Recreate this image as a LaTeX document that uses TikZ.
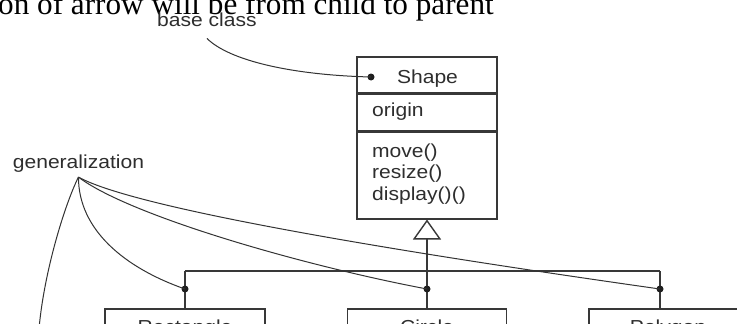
\documentclass[tikz,border=0pt]{standalone}
\usepackage{fontspec}
\setmainfont{Liberation Serif}
\newfontfamily\umlfont[FakeStretch=1.12]{Liberation Sans}
\usetikzlibrary{arrows.meta,positioning}

\begin{document}
\begin{tikzpicture}[
    x=1pt, y=-1pt,
    ink/.style={draw=black!78, line width=1.4pt},
    umltext/.style={font=\umlfont\fontsize{18.8}{22}\selectfont, text=black!82, inner sep=0pt},
    compartment/.style={ink, minimum width=140pt, inner sep=0pt},
    classbox/.style={ink, umltext, minimum width=160pt, minimum height=40pt, text height=13.5pt, text depth=4pt},
    note/.style={draw=black!80, line width=1pt},
    joint/.style={circle, fill=black!88, inner sep=0pt, minimum size=7pt},
    inherit/.style={ink, -{Triangle[open, width=28pt, length=20pt, fill=white]}}
]

\useasboundingbox (0,0) rectangle (737,324);
\clip (0,0) rectangle (737,324);
\fill[white] (0,0) rectangle (737,324);

\node[font=\fontsize{31.2}{36}\selectfont, anchor=base east, inner sep=0pt] (caption) at (494,14) {on of arrow will be from child to parent};

% parent class
\node[compartment, minimum height=36pt] (shapename) at (427,75) {};
\node[compartment, minimum height=36pt, below=0pt of shapename] (shapeattrs) {};
\node[compartment, minimum height=87pt, below=0pt of shapeattrs] (shapeops) {};
\node[umltext, anchor=base] (shapetitle) at (427.5,83) {Shape};
\node[umltext, anchor=base west] (shapeorigin) at (372,116) {origin};
\foreach \op [count=\i] in {{move()}, {resize()}, {display()()}}
    \node[umltext, anchor=base west] (op\i) at (372,{157+21.5*(\i-1)}) {\op};

% child classes
\node[classbox] (rect) at (185,329) {Rectangle};
\node[classbox, minimum width=159pt] (circ) at (427,329) {Circle};
\node[classbox, minimum width=158pt] (poly) at (668,329) {Polygon};

\coordinate (barleft) at (185,271);
\coordinate (barright) at (660,271);
\draw[inherit] (circ.north) -- (shapeops.south);
\draw[ink] (barleft) -- (barright);
\draw[ink] (barleft) -- (rect.north);
\draw[ink] (barright) -- (barright |- poly.north);

% callouts
\node[umltext, anchor=base west] (baselbl) at (157,27) {base class};
\node[umltext, anchor=base west] (genlbl) at (12.7,168) {generalization};
\coordinate (genfrom) at ([yshift=-5pt]genlbl.south);
\coordinate (squaretop) at (38,345);

\node[joint] (basedot) at (371,77) {};
\node[joint] (rectjoin) at (185,289) {};
\node[joint] (circjoin) at (427,289) {};
\node[joint] (polyjoin) at (660,289) {};

\draw[note] ([yshift=-11pt]baselbl.south) .. controls +(22,22) and +(-80,-2) .. (basedot.center);
\draw[note] (genfrom) .. controls +(-15,30) and +(2,-60) .. (squaretop);
\draw[note] (genfrom) .. controls +(0,53) and +(-60,-21) .. (rectjoin.center);
\draw[note] (genfrom) .. controls +(50,38) and +(-127,-24) .. (circjoin.center);
\draw[note] (genfrom) .. controls +(60,33) and +(-240,-34) .. (polyjoin.center);
\end{tikzpicture}
\end{document}
